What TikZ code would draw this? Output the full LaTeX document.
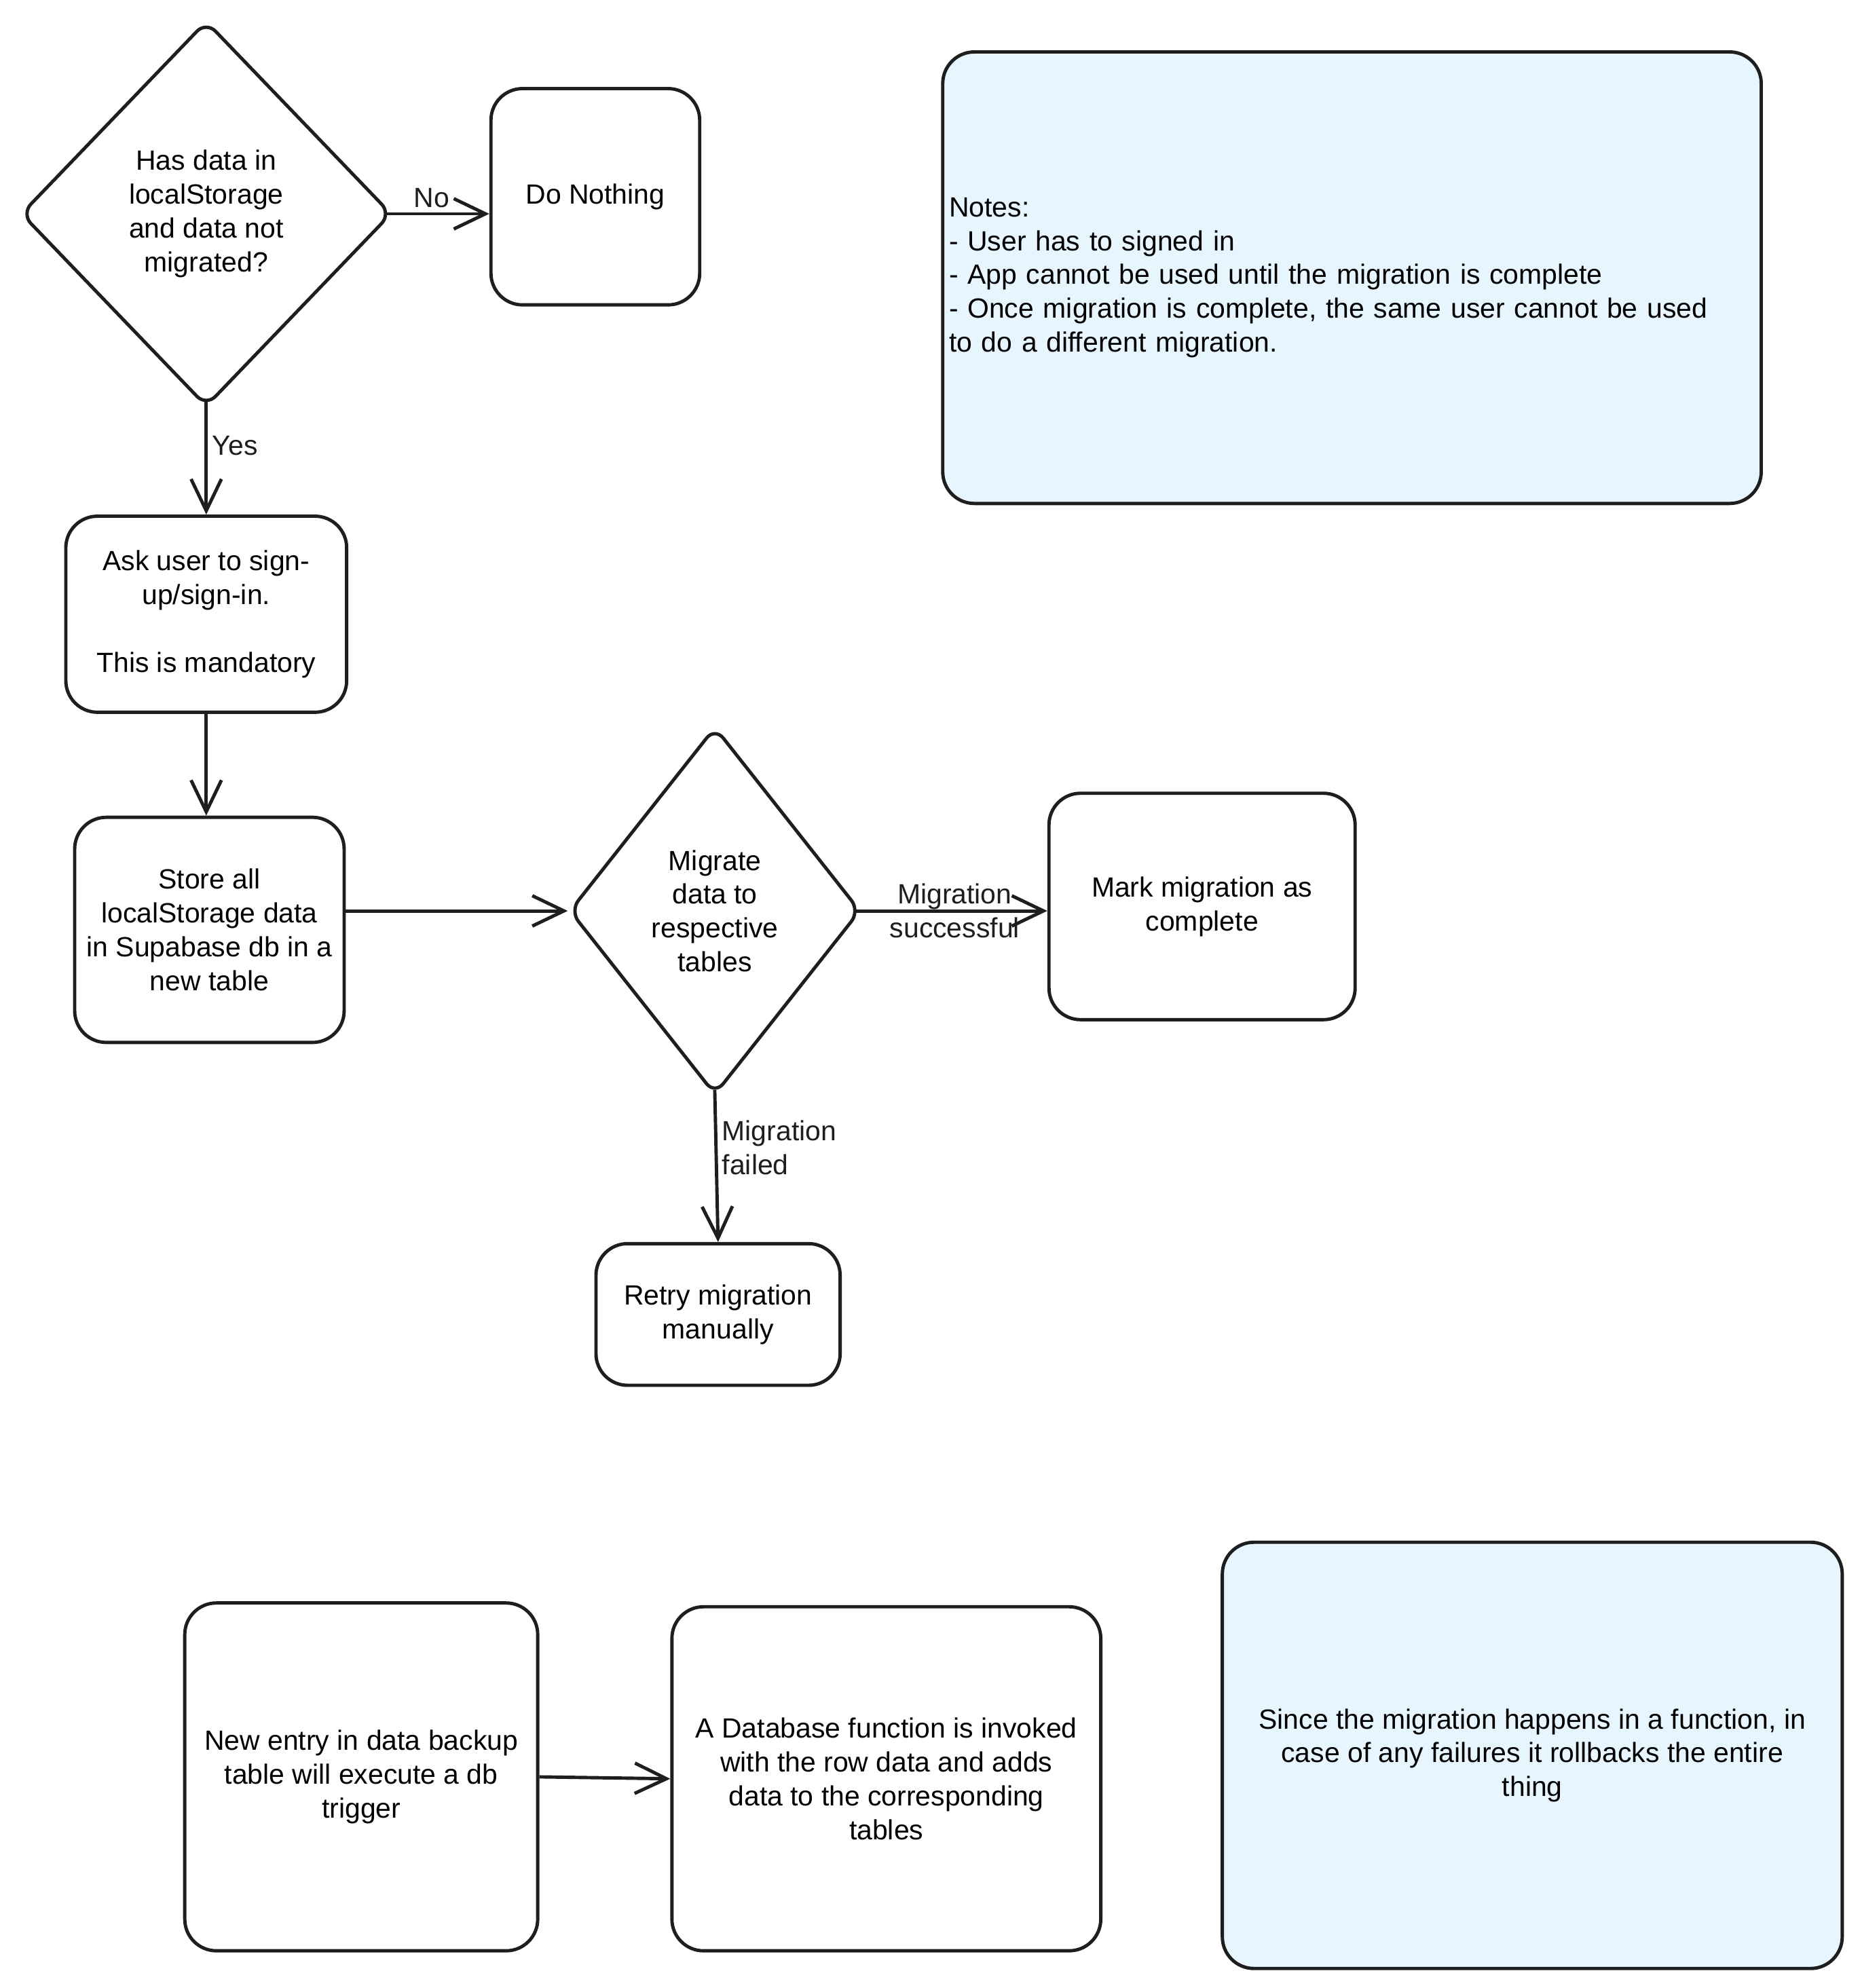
\documentclass[tikz,border=0pt]{standalone}
\usepackage{fontspec}
\setmainfont{Liberation Sans}
\usepackage{tikz}
\usetikzlibrary{shapes.geometric}
\usetikzlibrary{arrows.meta}
\usepackage{xcolor}
\definecolor{ink}{HTML}{1E1E1E}
\definecolor{notefill}{HTML}{E7F5FF}

\begin{document}
\begin{tikzpicture}[x=0.02cm, y=-0.02cm,
        font=\fontsize{12.5}{15.2}\selectfont,
        box/.style={draw=ink, line width=1.5pt, rounded corners=0.5cm, align=center, inner sep=2pt},
        decision/.style={draw=ink, line width=1.5pt, diamond, rounded corners=6pt, align=center, inner sep=0pt},
        notebox/.style={box, fill=notefill},
        flow/.style={draw=ink, line width=1.5pt, -{Straight Barb[length=5mm,width=4.8mm]}},
        fromdec/.style={flow, shorten <=-3pt},
        lbl/.style={text=ink, inner sep=2pt}]
        \useasboundingbox (0,0) rectangle (1470,1571.4);
        % first part: the migration flow
        \node[decision, minimum width=5.86cm, minimum height=6.1cm] (hasdata) at (163,169) {Has data in\\localStorage\\and data not\\migrated?};
        \node[box, minimum width=3.3cm, minimum height=3.42cm] (nothing) at (470.5,155.5) {Do Nothing};
        \node[box, minimum width=4.44cm, minimum height=3.1cm] (signin) at (163,485.5) {Ask user to sign-\\up/sign-in.\\[15.2pt]This is mandatory};
        \node[box, minimum width=4.26cm, minimum height=3.56cm] (store) at (165.5,735) {Store all\\localStorage data\\in Supabase db in a\\new table};
        \node[decision, aspect=0.79, minimum width=4.6cm, minimum height=5.82cm] (migrate) at (565,720) {Migrate\\data to\\respective\\tables};
        \node[box, minimum width=4.84cm, minimum height=3.58cm] (complete) at (950,716.5) {Mark migration as\\complete};
        \node[box, minimum width=3.86cm, minimum height=2.24cm] (retry) at (567.5,1039) {Retry migration\\manually};
        \node[notebox, text width=12.74cm, inner xsep=0.1cm, align=left, minimum height=7.14cm] (notes) at (1068.5,219.5) {Notes:\\- User has to signed in\\- App cannot be used until the migration is complete\\- Once migration is complete, the same user cannot be used\\to do a different migration.};

        \draw[fromdec] (hasdata.east) -- (hasdata.east -| nothing.west) node[lbl, above, pos=0.4] {No};
        \draw[fromdec] (hasdata.south) -- (signin.north) node[lbl, right, pos=0.35] {Yes};
        \draw[flow] (signin.south) -- (signin.south |- store.north);
        \draw[flow] (store.east |- migrate.west) -- (migrate.west);
        \draw[fromdec] (migrate.east) -- (migrate.east -| complete.west) node[lbl, midway, align=center] {Migration\\successful};
        \draw[fromdec] (migrate.south) -- (retry.north) node[lbl, right, align=left, pos=0.35] {Migration\\failed};

        % second part: the db trigger
        \node[box, minimum width=5.58cm, minimum height=5.5cm] (entry) at (285.5,1404.5) {New entry in data backup\\table will execute a db\\trigger};
        \node[box, minimum width=6.78cm, minimum height=5.44cm] (dbfunc) at (700.5,1406) {A Database function is invoked\\with the row data and adds\\data to the corresponding\\tables};
        \node[notebox, minimum width=9.8cm, minimum height=6.74cm] (rollback) at (1211,1387.5) {Since the migration happens in a function, in\\case of any failures it rollbacks the entire\\thing};

        \draw[flow] (entry.east) -- (dbfunc.west);
      \end{tikzpicture}
\end{document}
